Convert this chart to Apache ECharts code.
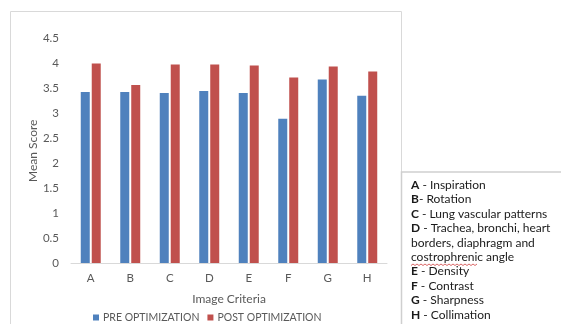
<!DOCTYPE html>
<html>
<head>
<meta charset="utf-8">
<script src="https://cdn.jsdelivr.net/npm/echarts@6/dist/echarts.min.js"></script>
<style>
  html, body { margin: 0; padding: 0; background: #fff; }
  #chart { width: 561px; height: 324px; }
</style>
</head>
<body>
<div id="chart"></div>
<script>
// Image criteria scored before and after optimization
const categories = ['A', 'B', 'C', 'D', 'E', 'F', 'G', 'H'];
const preOptimization = [3.43, 3.43, 3.41, 3.45, 3.41, 2.89, 3.68, 3.35];
const postOptimization = [4.00, 3.57, 3.98, 3.98, 3.96, 3.72, 3.94, 3.84];
const yTicks = { min: 0, max: 4.5, interval: 0.5 };

// Key explaining each criterion letter
const criteriaKey = [
  ['A', ' - Inspiration'],
  ['B', '- Rotation'],
  ['C', ' - Lung vascular patterns'],
  ['D', ' - Trachea, bronchi, heart'],
  ['', 'borders, diaphragm and'],
  ['', 'costrophrenic angle'],
  ['E', ' - Density'],
  ['F', ' - Contrast'],
  ['G', ' - Sharpness'],
  ['H', ' - Collimation']
];

const FONT = 'Lato';
const GREY = '#595959';
const KEY_SIZE = 12;

const keyText = criteriaKey.map(([k, rest]) =>
  (k ? '{b|' + k + '}' : '') + '{n|' + rest + '}'
).join('\n');

const chart = echarts.init(document.getElementById('chart'), null, { renderer: 'canvas' });

chart.setOption({
  animation: false,
  textStyle: { fontFamily: FONT },
  grid: { left: 71, right: 174, top: 38.5, bottom: 61 },
  legend: {
    data: ['PRE OPTIMIZATION', 'POST OPTIMIZATION'],
    top: 307,
    left: 88,
    itemWidth: 6,
    itemHeight: 6,
    itemGap: 8,
    icon: 'rect',
    textStyle: { color: GREY, fontSize: 10.5, fontFamily: FONT, padding: [0, 0, 0, -1] }
  },
  xAxis: {
    type: 'category',
    data: categories,
    name: 'Image Criteria',
    nameLocation: 'middle',
    nameGap: 30,
    nameMoveOverlap: false,
    nameTextStyle: { color: GREY, fontSize: 12, fontFamily: FONT },
    axisLine: { lineStyle: { color: '#d9d9d9', width: 1 } },
    axisTick: { show: false },
    axisLabel: { color: GREY, fontSize: 11.5, margin: 9, fontFamily: FONT }
  },
  yAxis: {
    type: 'value',
    min: yTicks.min,
    max: yTicks.max,
    interval: yTicks.interval,
    name: 'Mean Score',
    nameLocation: 'middle',
    nameGap: 32,
    nameMoveOverlap: false,
    nameTextStyle: { color: GREY, fontSize: 12, fontFamily: FONT },
    axisLine: { show: false },
    axisTick: { show: false },
    splitLine: { show: false },
    axisLabel: { color: GREY, fontSize: 11.5, margin: 12, fontFamily: FONT }
  },
  series: [
    {
      name: 'PRE OPTIMIZATION',
      type: 'bar',
      data: preOptimization,
      barWidth: 9,
      barGap: '22%',
      itemStyle: { color: '#4f81bd' }
    },
    {
      name: 'POST OPTIMIZATION',
      type: 'bar',
      data: postOptimization,
      barWidth: 9,
      itemStyle: { color: '#c0504d' }
    }
  ],
  graphic: [
    // chart area frame
    {
      type: 'rect',
      silent: true,
      shape: { x: 10.5, y: 11.5, width: 391, height: 330 },
      style: { fill: 'none', stroke: '#d9d9d9', lineWidth: 1 }
    },
    // criteria key box
    {
      type: 'rect',
      silent: true,
      shape: { x: 401.5, y: 172, width: 170, height: 170 },
      style: { fill: '#fff', stroke: '#cfcfcf', lineWidth: 1.5 }
    },
    {
      type: 'text',
      silent: true,
      left: 411,
      top: 178,
      style: {
        text: keyText,
        fill: '#1a1a1a',
        font: KEY_SIZE + 'px ' + FONT,
        lineHeight: 14.4,
        rich: {
          b: { fontWeight: 'bold', fontSize: KEY_SIZE, fontFamily: FONT, fill: '#1a1a1a', lineHeight: 14.4 },
          n: { fontSize: KEY_SIZE, fontFamily: FONT, fill: '#1a1a1a', lineHeight: 14.4 }
        }
      }
    },
    // spell-check squiggle under "costrophrenic"
    {
      type: 'polyline',
      silent: true,
      shape: {
        points: (function () {
          const pts = [];
          for (let x = 411; x <= 477; x += 2) pts.push([x, (x - 411) % 4 === 0 ? 265.5 : 264]);
          return pts;
        })()
      },
      style: { stroke: '#d04040', lineWidth: 0.8, fill: 'none' }
    }
  ]
});
</script>
</body>
</html>
